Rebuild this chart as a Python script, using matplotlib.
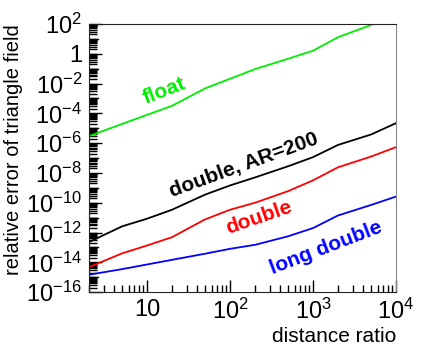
import math
import matplotlib
matplotlib.use("Agg")
import matplotlib.pyplot as plt
from matplotlib.ticker import LogLocator, FixedLocator, FuncFormatter, NullFormatter

plt.rcParams["font.family"] = ["Liberation Sans", "DejaVu Sans"]
plt.rcParams["mathtext.default"] = "regular"

# distance ratio (x) and relative error of the triangle field for each precision
distance_ratio = [2, 5, 10, 20, 50, 100, 200, 500, 1000, 2000, 5000, 10000]
err_float = [2.95e-6, 1.95e-5, 7.9e-5, 3.2e-4, 4.7e-3, 2.1e-2, 9.3e-2, 0.46, 1.6, 12.9, 85, 355]
err_double_ar200 = [2.3e-13, 2.6e-12, 8.5e-12, 3.4e-11, 3.5e-10, 1.45e-9, 5.0e-9, 2.8e-8, 1.15e-7, 7.6e-7, 3.8e-6, 2.2e-5]
err_double = [4.8e-15, 4.0e-14, 1.35e-13, 4.9e-13, 7.6e-12, 3.4e-11, 1.0e-10, 6.0e-10, 3.2e-9, 2.4e-8, 1.26e-7, 5.4e-7]
err_long_double = [1.48e-15, 3.5e-15, 7.2e-15, 1.48e-14, 3.8e-14, 8.1e-14, 1.5e-13, 5.6e-13, 2.0e-12, 1.4e-11, 7.1e-11, 2.6e-10]

series = [
    ("float", err_float, "#00ee00"),
    ("double, AR=200", err_double_ar200, "black"),
    ("double", err_double, "red"),
    ("long double", err_long_double, "blue"),
]

# label anchor (x, y) in data coords and rotation
label_pos = {
    "float": (16, 3.0e-3, 21),
    "double, AR=200": (147, 3.2e-8, 20),
    "double": (224, 1.0e-11, 19),
    "long double": (1450, 9.0e-14, 21),
}

fig = plt.figure(figsize=(4.45, 3.52), dpi=100)
ax = fig.add_axes([0.2, 0.17, 0.69, 0.762])

for name, vals, col in series:
    ax.plot(distance_ratio, vals, color=col, lw=1.3)
    lx, ly, rot = label_pos[name]
    ax.text(lx, ly, name, color=col, fontsize=15, fontweight="bold",
            rotation=rot, ha="center", va="center", rotation_mode="anchor")

ax.set_xscale("log")
ax.set_yscale("log")
ax.set_xlim(2, 1e4)
ax.set_ylim(1e-16, 1e2)


def yfmt(v, pos):
    if abs(v - 1) < 1e-9:
        return "1"
    e = int(round(math.log10(v)))
    return "$10^{%d}$" % e if e >= 0 else "$10^{\u2212%d}$" % (-e)


def xfmt(v, pos):
    e = int(round(math.log10(v)))
    return "10" if e == 1 else "$10^{%d}$" % e


ax.yaxis.set_major_locator(FixedLocator([10.0 ** k for k in range(-16, 3, 2)]))
ax.yaxis.set_major_formatter(FuncFormatter(yfmt))
ax.yaxis.set_minor_locator(LogLocator(base=10, subs=[1, 2, 3, 4, 5, 6, 7, 8, 9], numticks=40))
ax.yaxis.set_minor_formatter(NullFormatter())
ax.xaxis.set_major_locator(FixedLocator([10, 100, 1000, 10000]))
ax.xaxis.set_major_formatter(FuncFormatter(xfmt))
ax.xaxis.set_minor_locator(LogLocator(base=10, subs=[2, 3, 4, 5, 6, 7, 8, 9], numticks=20))
ax.xaxis.set_minor_formatter(NullFormatter())

ax.tick_params(which="both", direction="in", top=False, right=False, labelsize=17)
ax.tick_params(which="major", length=9, width=1.0)
ax.tick_params(which="minor", length=5, width=1.0)
ax.tick_params(axis="y", which="minor", length=6)
ax.tick_params(axis="x", pad=5)
ax.tick_params(axis="y", pad=5)

# decade ticks on y that are not labelled should still be long
for k in range(-15, 2, 2):
    ax.axhline(10.0 ** k, xmin=0, xmax=0.03, color="black", lw=1.0)

for s in ["left", "bottom", "top"]:
    ax.spines[s].set_color("#222222")
ax.spines["right"].set_color("#888888")

ax.set_xlabel("distance ratio", fontsize=15, loc="right", labelpad=2)
ax.set_ylabel("relative error of triangle field", fontsize=14.5, loc="top", labelpad=2)

fig.savefig("out.png", dpi=100)
